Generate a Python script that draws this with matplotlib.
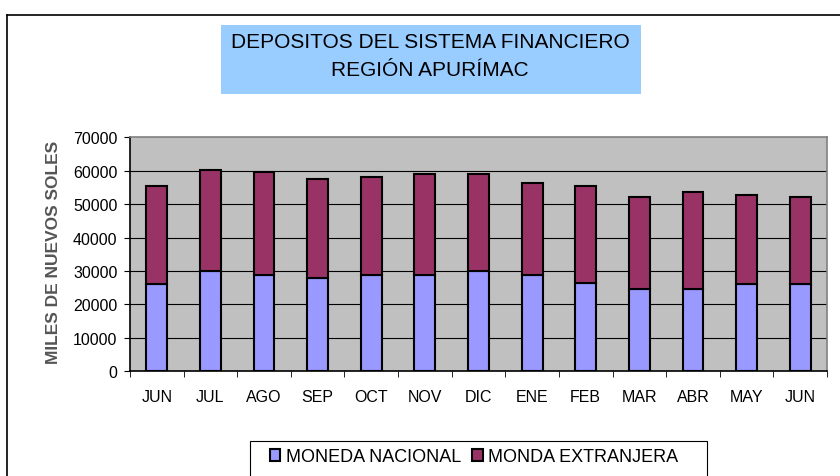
import matplotlib
matplotlib.use("Agg")
import matplotlib.pyplot as plt
from matplotlib.patches import Rectangle
from matplotlib.lines import Line2D
import numpy as np

plt.rcParams['font.family'] = ['Liberation Sans', 'DejaVu Sans']

months = ["JUN", "JUL", "AGO", "SEP", "OCT", "NOV", "DIC", "ENE", "FEB", "MAR", "ABR", "MAY", "JUN"]
nacional = [26100, 30100, 28800, 28000, 28700, 28800, 30000, 28800, 26500, 24500, 24500, 26000, 26000]
total = [55500, 60300, 59700, 57500, 58200, 59000, 58900, 56300, 55500, 52100, 53500, 52800, 52100]
extranjera = [t - n for t, n in zip(total, nacional)]
yticks = [0, 10000, 20000, 30000, 40000, 50000, 60000, 70000]

W, H = 840, 477
fig = plt.figure(figsize=(8.4, 4.77), dpi=100)

def fx(px):
    return px / W

def fy(py):
    return 1 - py / H

# outer chart frame (left and top edges visible)
fig.add_artist(Line2D([fx(7), fx(7)], [fy(16), -0.1], transform=fig.transFigure, color='black', lw=1.2))
fig.add_artist(Line2D([fx(7), 1.1], [fy(16), fy(16)], transform=fig.transFigure, color='black', lw=1.2))

# title box
fig.add_artist(Rectangle((fx(221), fy(95)), fx(641) - fx(221), fy(26) - fy(95),
                         transform=fig.transFigure, facecolor='#99CCFF', edgecolor='none'))
fig.text(fx(430), fy(42), "DEPOSITOS DEL SISTEMA FINANCIERO", ha='center', va='center', fontsize=15)
fig.text(fx(430), fy(70), "REGIÓN APURÍMAC", ha='center', va='center', fontsize=15)

left, right, top, bottom = 130, 827, 138.3, 372.3
ax = fig.add_axes([fx(left), fy(bottom), fx(right) - fx(left), (bottom - top) / H])
ax.set_facecolor('#C0C0C0')

x = np.arange(len(months))
bw = 0.39
ax.bar(x, nacional, bw, color='#9999FF', edgecolor='black', linewidth=1.5, zorder=3, label='MONEDA NACIONAL')
ax.bar(x, extranjera, bw, bottom=nacional, color='#993366', edgecolor='black', linewidth=1.5, zorder=3, label='MONDA EXTRANJERA')

ax.set_xlim(-0.5, len(months) - 0.5)
ax.set_ylim(0, 70000)
ax.set_yticks(yticks)
ax.set_yticklabels([str(v) for v in yticks], fontsize=11.5)
ax.set_xticks(x)
ax.set_xticklabels(months, fontsize=11.5)
ax.set_xticks(np.arange(-0.5, len(months)), minor=True)
ax.tick_params(axis='x', which='major', length=0, pad=13)
ax.tick_params(axis='x', which='minor', length=4, direction='out', color='black')
ax.tick_params(axis='y', length=4, direction='out', color='black', pad=5)

for v in yticks[1:-1]:
    ax.axhline(v, color='black', lw=0.8, zorder=1)

ax.spines['left'].set_color('black')
ax.spines['bottom'].set_color('black')
ax.spines['top'].set_color('#808080')
ax.spines['right'].set_color('#808080')
for s in ax.spines.values():
    s.set_linewidth(1.2)

fig.text(fx(54), fy(252), "MILES DE NUEVOS SOLES", rotation=90, ha='center', va='center',
         fontsize=12.5, fontweight='bold', color='#555555')

# legend box
fig.add_artist(Rectangle((fx(250), -0.05), fx(707) - fx(250), fy(442) + 0.05,
                         transform=fig.transFigure, facecolor='white', edgecolor='black', lw=0.8))
handles, labels = ax.get_legend_handles_labels()
leg = fig.legend(handles, labels, loc='center', bbox_to_anchor=(fx(474), fy(458)), ncol=2,
                 frameon=False, fontsize=13, handlelength=0.6, handleheight=0.6,
                 handletextpad=0.3, columnspacing=0.6)

fig.savefig("out.png", dpi=100)
